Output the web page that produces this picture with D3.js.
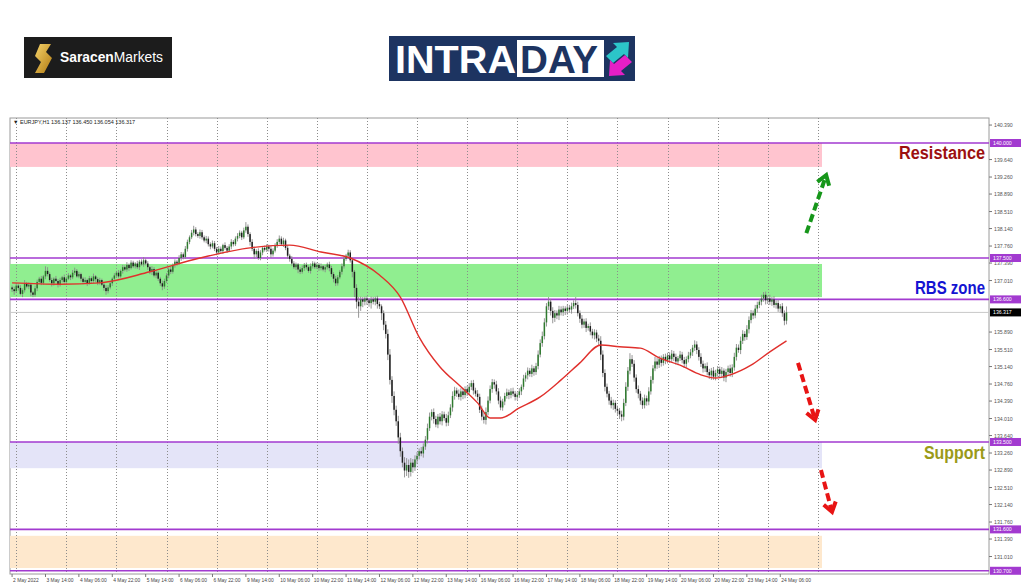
<!DOCTYPE html>
<html><head><meta charset="utf-8">
<script src="https://cdn.jsdelivr.net/npm/d3@7"></script>
<style>body{margin:0;background:#fff;} svg{display:block;font-family:"Liberation Sans",Arial,sans-serif;}</style>
</head><body><svg id="c" width="1024" height="587"></svg>
<script>
// ---------------- DATA ----------------
const headerText = "EURJPY,H1  136.137 136.450 136.054 136.317";
const firstOpen = 136.86;
// hourly closes, bar 0 = 2 May 22:00
const closes = [
136.82,136.78,
136.90,136.85,136.72,136.80,136.95,136.88,136.92,136.75,136.70,136.84,136.98,137.05,136.96,137.10,137.22,137.15,137.02,136.95,137.05,137.00,136.92,137.02,137.08,136.98,
137.05,137.12,137.08,137.18,137.22,137.10,137.15,137.05,136.98,137.02,136.95,137.06,137.00,137.10,137.04,136.96,137.02,136.92,136.85,136.78,136.86,136.95,137.05,137.12,
137.18,137.10,137.22,137.30,137.25,137.35,137.28,137.40,137.32,137.38,137.30,137.42,137.36,137.45,137.38,137.30,137.20,137.26,137.12,137.18,137.05,136.95,136.88,137.00,
137.12,137.25,137.20,137.35,137.42,137.38,137.50,137.58,137.52,137.70,137.85,137.95,138.05,138.12,138.02,137.98,138.06,137.95,137.88,137.92,137.80,137.75,137.82,137.70,
137.62,137.70,137.65,137.78,137.72,137.66,137.75,137.85,137.80,137.92,137.98,138.05,137.95,138.10,138.18,138.02,137.85,137.70,137.58,137.65,137.50,137.62,137.72,137.68,
137.75,137.70,137.58,137.66,137.78,137.85,137.92,137.80,137.88,137.72,137.55,137.48,137.38,137.30,137.36,137.25,137.20,137.28,137.35,137.30,137.22,137.32,137.38,137.30,
137.35,137.28,137.32,137.25,137.30,137.36,137.28,137.15,137.05,136.95,137.08,137.20,137.32,137.48,137.55,137.62,137.45,137.20,136.85,136.55,136.45,136.60,136.55,136.62,
136.58,136.52,136.60,136.55,136.62,136.50,136.45,136.30,136.05,135.85,135.40,134.85,134.50,134.20,133.95,133.60,133.30,133.05,132.88,133.00,132.85,133.05,132.95,133.12,
133.20,133.30,133.25,133.40,133.55,133.80,134.05,134.15,134.00,133.88,134.05,133.95,134.10,134.02,133.92,134.08,134.25,134.50,134.62,134.55,134.48,134.60,134.52,134.65,
134.58,134.70,134.78,134.62,134.55,134.48,134.20,134.05,133.98,134.15,134.40,134.65,134.80,134.75,134.60,134.40,134.25,134.38,134.50,134.58,134.52,134.60,134.55,134.48,
134.52,134.60,134.70,134.88,134.95,135.05,134.98,135.10,135.02,135.15,135.40,135.65,135.80,136.10,136.45,136.55,136.35,136.20,136.30,136.25,136.38,136.32,136.40,136.35,
136.42,136.38,136.45,136.52,136.48,136.30,136.18,136.05,136.12,135.98,136.02,135.90,135.82,135.88,135.75,135.70,135.40,135.00,134.70,134.55,134.40,134.30,134.35,134.22,
134.18,134.10,134.05,134.35,134.70,135.05,135.30,135.20,134.90,134.65,134.55,134.40,134.30,134.45,134.38,134.60,134.85,135.10,135.25,135.18,135.30,135.22,135.35,135.28,
135.38,135.30,135.42,135.35,135.25,135.32,135.40,135.28,135.20,135.30,135.38,135.45,135.55,135.62,135.50,135.35,135.20,135.10,135.15,135.02,134.95,135.05,134.92,135.00,
135.08,134.98,135.05,134.90,135.02,135.10,135.00,135.12,135.35,135.55,135.50,135.70,135.85,135.78,135.95,136.15,136.30,136.25,136.40,136.48,136.55,136.62,136.70,136.58,
136.62,136.55,136.60,136.48,136.52,136.40,136.45,136.30,136.137,136.317
];
// upper / lower wick length of each candle, in 0.01 JPY
const wickHigh = [
4,6,
5,3,6,4,7,3,5,4,3,6,5,4,6,3,10,8,4,5,3,6,4,5,3,6,
4,5,3,6,7,4,5,3,4,6,3,5,4,6,3,4,5,3,4,6,5,4,3,5,
4,6,3,5,4,6,3,5,4,3,6,4,5,7,4,5,3,6,4,5,3,4,6,5,
5,4,6,3,5,4,6,5,4,6,5,4,6,8,5,4,6,5,4,6,5,4,6,5,
4,6,5,3,6,4,5,6,4,5,6,5,4,6,10,5,4,6,5,4,6,5,3,5,
5,4,6,5,4,6,7,5,6,4,5,4,6,5,4,3,5,6,4,5,4,6,5,4,
5,4,6,3,5,4,6,5,4,6,5,4,6,5,4,6,5,6,4,8,10,6,5,4,
5,4,6,5,4,6,5,4,6,8,10,12,8,10,9,12,10,8,12,15,12,10,8,9,
8,6,9,7,8,10,9,6,8,7,6,8,7,6,9,8,7,10,8,6,9,7,8,6,
7,8,6,7,6,8,7,9,8,10,9,8,7,6,8,7,9,6,7,8,6,7,8,6,
6,7,5,8,6,7,6,8,5,7,9,8,10,9,7,10,6,8,7,6,8,7,6,5,
7,6,8,6,13,7,6,8,6,7,5,8,6,7,6,8,10,9,8,7,6,8,7,6,
7,6,8,9,10,8,13,9,8,7,8,6,7,8,6,9,8,7,10,8,7,8,6,7,
6,7,8,6,7,5,8,6,7,6,8,7,6,9,7,6,8,7,6,8,7,6,8,7,
7,6,8,5,7,6,8,7,9,8,7,9,8,6,9,8,7,6,8,7,6,8,6,7,
6,8,5,7,6,8,5,7,6,13
];
const wickLow = [
6,8,
4,6,3,7,5,4,6,8,5,4,6,3,5,4,6,5,4,7,5,3,6,4,5,4,
5,3,6,4,5,3,4,6,5,4,6,3,5,4,6,5,4,3,6,8,5,4,6,3,
5,4,3,6,4,5,6,3,4,5,4,6,3,5,4,6,5,7,4,6,5,6,8,5,
4,6,5,4,6,5,3,6,5,4,6,5,4,6,5,4,6,5,4,6,5,6,4,5,
6,4,5,6,4,5,3,6,5,4,6,5,6,4,5,6,8,5,10,6,4,5,6,4,
5,6,8,5,4,6,5,4,6,5,7,6,5,4,6,8,5,4,6,5,4,6,5,4,
4,6,5,4,6,5,7,6,8,6,5,4,6,5,4,6,5,12,20,15,25,10,12,8,
10,8,12,6,8,10,6,15,12,10,12,10,15,12,10,14,12,10,15,12,13,10,12,8,
10,8,6,9,7,8,6,8,10,6,8,7,9,6,8,7,6,9,8,7,6,8,9,7,
8,6,7,9,6,8,7,8,8,10,7,6,8,9,7,8,6,7,8,6,9,7,6,8,
7,6,8,6,7,9,6,7,8,6,7,6,8,7,9,8,10,12,9,8,10,7,8,9,
8,7,9,6,8,7,9,8,7,9,6,8,7,9,8,10,12,9,10,8,9,7,10,8,
9,10,10,8,7,9,8,7,9,8,10,9,8,7,9,8,7,8,6,9,7,8,6,9,
7,8,6,9,7,8,6,7,9,8,7,6,8,7,9,8,7,9,8,7,8,10,7,8,
8,7,9,8,10,7,8,9,7,8,6,9,7,8,6,9,7,8,6,9,7,8,7,9,
8,7,9,6,8,7,9,8,10,8
];
// moving average (bar index, price)
const maBars   = [0,23,42,66,90,114,133,148,162,176,186,195,205,215,223,229,234,243,253,263,272,282,291,301,310,320,330,337,344,354,363,371];
const maValues = [136.96,136.93,136.96,137.20,137.50,137.72,137.78,137.63,137.50,137.13,136.65,135.78,135.13,134.70,134.35,134.02,134.02,134.24,134.48,134.85,135.22,135.61,135.57,135.54,135.33,135.17,134.96,134.89,134.96,135.17,135.46,135.70];
const xLabels = ["2 May 2022","3 May 14:00","4 May 06:00","4 May 22:00","5 May 14:00","6 May 06:00","6 May 22:00","9 May 14:00","10 May 06:00","10 May 22:00","11 May 14:00","12 May 06:00","12 May 22:00","13 May 14:00","16 May 06:00","16 May 22:00","17 May 14:00","18 May 06:00","18 May 22:00","19 May 14:00","20 May 06:00","20 May 22:00","23 May 14:00","24 May 06:00"];
const xLabelStep = 16;
const gridBars = [2,26,50,74,98,122,146,170,194,218,242,266,290,314,338,362,386];
const yTicks = [140.390,139.640,139.260,138.890,138.510,138.140,137.760,137.390,137.010,135.890,135.510,135.140,134.760,134.390,134.010,133.640,133.260,132.890,132.510,132.140,131.760,131.390,131.010];
const levels = [140.000,137.500,136.600,133.500,131.600,130.700];
const currentPrice = 136.317;
const zoneLow  = [139.48,136.65,132.93,130.76];
const zoneHigh = [140.00,137.37,133.50,131.46];
const zoneColors = ["#ffc4cf","#90ee90","#e4e4f8","#fee8cd"];
const zoneEndBar = 388;
const labelTexts = ["Resistance","RBS zone","Support"];
const labelPrices = [139.66,136.72,133.12];
const labelColors = ["#9c1010","#1414d2","#9a9a18"];
const labelWidths = [86,70,61];
const arrowFrom = [[380.5,138.04],[376.5,135.22],[387.5,132.89]];
const arrowTo   = [[390.0,139.30],[384.7,133.98],[392.8,131.98]];
const arrowColors = ["#16961a","#e81414","#e81414"];

// ---------------- CHART ----------------
const svg = d3.select("#c");
const L = 10, R = 989, T = 118, B = 574;
const x = d3.scaleLinear().domain([-1, 468]).range([L, R]);
const y = d3.scaleLinear().domain([140.5435, 130.63]).range([T, B]);

// logos
const sm = svg.append("g");
sm.append("rect").attr("x",24).attr("y",37).attr("width",148).attr("height",41).attr("fill","#1c1c1c");
const gold = svg.append("defs").append("linearGradient").attr("id","gold").attr("x1","0").attr("y1","0").attr("x2","1").attr("y2","1");
gold.append("stop").attr("offset","0").attr("stop-color","#f6d36a");
gold.append("stop").attr("offset","1").attr("stop-color","#b07a12");
sm.append("path").attr("d","M40,44 L51,44 L46,52 L52,58 L44,73 L35,73 L41,62 L35,56 Z").attr("fill","url(#gold)");
const smt = sm.append("text").attr("x",60).attr("y",62).attr("font-size",14).attr("fill","#fff")
  .attr("textLength",103).attr("lengthAdjust","spacingAndGlyphs");
smt.append("tspan").attr("font-weight","bold").text("Saracen");
smt.append("tspan").text("Markets");

const il = svg.append("g");
il.append("rect").attr("x",389).attr("y",36).attr("width",246).attr("height",45).attr("fill","#1d3461");
il.append("rect").attr("x",517).attr("y",40).attr("width",87).attr("height",37).attr("fill","#fff");
il.append("text").attr("x",395).attr("y",73).attr("font-size",39).attr("font-weight","bold").attr("fill","#fff")
  .attr("textLength",121).attr("lengthAdjust","spacingAndGlyphs").text("INTRA");
il.append("text").attr("x",520).attr("y",73).attr("font-size",39).attr("font-weight","bold").attr("fill","#1d3461")
  .attr("textLength",78).attr("lengthAdjust","spacingAndGlyphs").text("DAY");
il.append("path").attr("d","M606,56 L617,47 L613,43 L629,42 L628,58 L624,54 L613,63 Z").attr("fill","#2cc5c9");
il.append("path").attr("d","M632,62 L621,71 L625,75 L609,76 L610,60 L614,64 L625,55 Z").attr("fill","#e51fc6");

// frame
svg.append("rect").attr("x",L).attr("y",T).attr("width",R-L).attr("height",B-T).attr("fill","#fff").attr("stroke","#9a9a9a").attr("stroke-width",1);

const clip = svg.append("defs").append("clipPath").attr("id","plot");
clip.append("rect").attr("x",L).attr("y",T).attr("width",R-L).attr("height",B-T);
const g = svg.append("g").attr("clip-path","url(#plot)");

// zones
g.selectAll(".zone").data(zoneLow).join("rect")
  .attr("x",x(-1)).attr("width",x(zoneEndBar)-x(-1))
  .attr("y",(d,i)=>y(zoneHigh[i])).attr("height",(d,i)=>y(d)-y(zoneHigh[i]))
  .attr("fill",(d,i)=>zoneColors[i]);

// vertical grid
g.selectAll(".grid").data(gridBars).join("line")
  .attr("x1",d=>Math.round(x(d))+0.5).attr("x2",d=>Math.round(x(d))+0.5).attr("y1",T).attr("y2",B)
  .attr("stroke","#8c8c8c").attr("stroke-width",1).attr("stroke-dasharray","1,2");

// current price line
g.append("line").attr("x1",L).attr("x2",R).attr("y1",y(currentPrice)).attr("y2",y(currentPrice)).attr("stroke","#c8c8c8").attr("stroke-width",1);

// levels
g.selectAll(".lvl").data(levels).join("line")
  .attr("x1",L).attr("x2",R).attr("y1",d=>y(d)).attr("y2",d=>y(d))
  .attr("stroke","#a23ad0").attr("stroke-width",1.6);

// candles
const candles = closes.map((c,i)=>{
  const o = i===0 ? firstOpen : closes[i-1];
  return {i, o, c, h: Math.max(o,c)+wickHigh[i]/100, l: Math.min(o,c)-wickLow[i]/100};
});
g.selectAll(".wick").data(candles).join("line")
  .attr("x1",d=>x(d.i)).attr("x2",d=>x(d.i)).attr("y1",d=>y(d.h)).attr("y2",d=>y(d.l))
  .attr("stroke","#8a8a8a").attr("stroke-width",0.9);
g.selectAll(".body").data(candles).join("rect")
  .attr("x",d=>x(d.i)-0.75).attr("width",1.5)
  .attr("y",d=>y(Math.max(d.o,d.c))).attr("height",d=>Math.max(0.8,Math.abs(y(d.o)-y(d.c))))
  .attr("fill",d=>d.c>=d.o ? "#2f7a2f" : "#1e1e1e");

// moving average
g.append("path").datum(maBars.map((b,i)=>[b,maValues[i]]))
  .attr("d",d3.line().x(d=>x(d[0])).y(d=>y(d[1])).curve(d3.curveMonotoneX))
  .attr("fill","none").attr("stroke","#e0302c").attr("stroke-width",1.4);

// arrows
arrowFrom.forEach((f,k)=>{
  const t = arrowTo[k];
  const x1=x(f[0]), y1=y(f[1]), x2=x(t[0]), y2=y(t[1]);
  const a = Math.atan2(y2-y1,x2-x1);
  svg.append("line").attr("x1",x1).attr("y1",y1).attr("x2",x2-Math.cos(a)*3).attr("y2",y2-Math.sin(a)*3)
    .attr("stroke",arrowColors[k]).attr("stroke-width",4).attr("stroke-dasharray","8,4");
  const h=11, s=0.6;
  svg.append("path").attr("d",`M${x2-h*Math.cos(a-s)},${y2-h*Math.sin(a-s)} L${x2},${y2} L${x2-h*Math.cos(a+s)},${y2-h*Math.sin(a+s)}`)
    .attr("fill","none").attr("stroke",arrowColors[k]).attr("stroke-width",4).attr("stroke-linejoin","miter");
});

// zone labels
svg.selectAll(".zl").data(labelTexts).join("text")
  .attr("x",(d,i)=>985-labelWidths[i]).attr("y",(d,i)=>y(labelPrices[i]))
  .attr("font-family","'Liberation Sans Narrow','Liberation Sans',Arial,sans-serif")
  .attr("font-size",18).attr("font-weight","bold").attr("fill",(d,i)=>labelColors[i])
  .attr("textLength",(d,i)=>labelWidths[i]).attr("lengthAdjust","spacingAndGlyphs").text(d=>d);

// right axis
const ax = svg.append("g");
ax.selectAll(".tk").data(yTicks).join("line").attr("x1",R).attr("x2",R+3).attr("y1",d=>y(d)).attr("y2",d=>y(d)).attr("stroke","#777");
ax.selectAll(".tl").data(yTicks).join("text").attr("x",R+5).attr("y",d=>y(d)+2).attr("font-size",5.2).attr("fill","#555").text(d=>d.toFixed(3));
const lv = ax.selectAll(".lb").data(levels).join("g").attr("transform",d=>`translate(${R},${y(d)})`);
lv.append("rect").attr("x",1).attr("y",-4).attr("width",31).attr("height",8).attr("fill","#a23ad0");
lv.append("text").attr("x",4).attr("y",2).attr("font-size",5.2).attr("fill","#fff").text(d=>d.toFixed(3));
const cp = ax.append("g").attr("transform",`translate(${R},${y(currentPrice)})`);
cp.append("rect").attr("x",1).attr("y",-4).attr("width",31).attr("height",8).attr("fill","#000");
cp.append("text").attr("x",4).attr("y",2).attr("font-size",5.2).attr("fill","#fff").text(currentPrice.toFixed(3));

// bottom axis
const bx = svg.append("g");
bx.selectAll(".xt").data(xLabels).join("line").attr("x1",(d,i)=>x(i*xLabelStep)).attr("x2",(d,i)=>x(i*xLabelStep)).attr("y1",B).attr("y2",B+3).attr("stroke","#777");
bx.selectAll(".xl").data(xLabels).join("text").attr("x",(d,i)=>x(i*xLabelStep)+1).attr("y",582).attr("font-size",4.9).attr("fill","#444").text(d=>d);

// header
svg.append("text").attr("x",13).attr("y",124).attr("font-size",5.5).attr("fill","#222").text("▼ "+headerText);
</script></body></html>
